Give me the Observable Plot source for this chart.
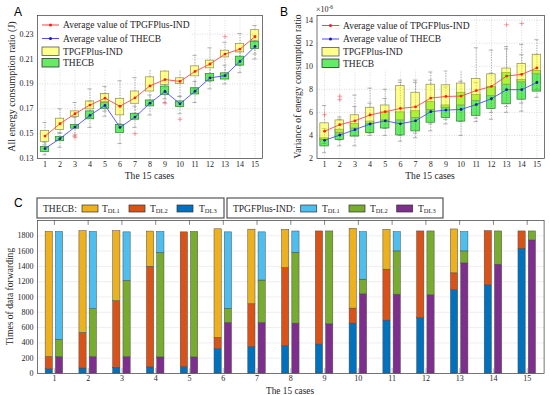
<!DOCTYPE html>
<html><head><meta charset="utf-8">
<script src="https://cdn.jsdelivr.net/npm/d3@7"></script>
<script src="https://cdn.jsdelivr.net/npm/@observablehq/plot@0.6"></script>
<style>
body{margin:0;background:#fff;}
#wrap{position:relative;width:550px;height:395px;overflow:hidden;background:#fff;}
#wrap svg{position:absolute;left:0;top:0;}
</style></head><body><div id="wrap"></div>
<script>
const cases = [1,2,3,4,5,6,7,8,9,10,11,12,13,14,15];

// Panel A: all energy consumption ratio (J)
const aTicks = [0.13,0.15,0.17,0.19,0.21,0.23];
const a_tpgf_mean = [0.148,0.158,0.166,0.173,0.1785,0.172,0.1788,0.1884,0.1935,0.192,0.200,0.206,0.214,0.218,0.228];
const a_thecb_mean = [0.138,0.146,0.1553,0.1647,0.1727,0.155,0.1633,0.1745,0.1839,0.174,0.1841,0.1948,0.1967,0.2081,0.2201];
const a_tpgf_q1 = [0.1433,0.153,0.1633,0.1695,0.1745,0.1647,0.174,0.1839,0.1892,0.190,0.1961,0.2025,0.2113,0.2153,0.2247];
const a_tpgf_q3 = [0.152,0.162,0.1679,0.1759,0.182,0.178,0.1839,0.1953,0.1999,0.1945,0.2041,0.2087,0.2167,0.222,0.2332];
const a_thecb_q1 = [0.1353,0.1439,0.154,0.1615,0.170,0.1505,0.1612,0.1719,0.1812,0.1713,0.1815,0.1921,0.1935,0.2047,0.218];
const a_thecb_q3 = [0.1393,0.1473,0.157,0.1679,0.1753,0.157,0.166,0.1767,0.1879,0.1759,0.1865,0.198,0.1985,0.2119,0.2239];
const a_tpgf_lo = [0.141,0.150,0.156,0.163,0.168,0.158,0.166,0.174,0.178,0.180,0.186,0.192,0.196,0.205,0.214];
const a_tpgf_hi = [0.159,0.170,0.175,0.186,0.188,0.1925,0.195,0.204,0.211,0.204,0.213,0.219,0.2235,0.2305,0.237];
const a_thecb_lo = [0.133,0.139,0.148,0.155,0.164,0.142,0.155,0.165,0.175,0.166,0.175,0.186,0.190,0.199,0.210];
const a_thecb_hi = [0.143,0.151,0.163,0.176,0.182,0.172,0.172,0.181,0.193,0.180,0.192,0.205,0.205,0.216,0.229];
const a_out_case = [3,3,7,9,10,13];
const a_out_val = [0.147,0.149,0.150,0.1745,0.1616,0.228];

// Panel B: variance of energy consumption ratio (x1e-6)
const bTicks = [2,4,6,8,10,12,14];
const b_tpgf_mean = [4.37,4.93,5.27,5.77,6.06,6.34,6.48,7.24,7.38,7.41,7.89,8.25,9.15,9.30,9.86];
const b_thecb_mean = [3.58,4.03,4.50,4.99,5.27,5.01,5.27,6.06,6.20,6.25,6.68,7.18,7.97,7.97,8.59];
const b_tpgf_q1 = [3.6,4.2,4.6,5.0,5.3,5.3,5.5,6.2,6.4,6.6,7.0,7.4,8.4,8.6,9.3];
const b_tpgf_q3 = [5.05,5.3,5.75,6.4,6.6,8.3,7.7,8.4,8.35,8.5,8.9,9.3,9.8,10.2,11.0];
const b_thecb_q1 = [3.05,3.6,3.9,4.2,4.6,4.0,4.35,5.1,5.5,5.2,5.7,6.3,6.7,7.1,7.8];
const b_thecb_q3 = [3.75,4.5,5.0,5.2,6.0,6.0,6.1,6.9,6.6,7.7,7.5,8.2,9.4,8.8,9.6];
const b_tpgf_lo = [3.3,3.6,4.0,4.2,4.6,4.0,4.2,5.0,5.4,5.2,5.5,6.0,6.5,6.8,8.0];
const b_tpgf_hi = [6.6,5.6,7.5,8.1,8.0,8.8,8.8,9.5,9.6,10.8,11.6,11.4,11.7,11.9,12.3];
const b_thecb_lo = [2.5,3.1,3.1,4.0,4.0,3.5,3.8,4.4,5.0,4.0,5.2,5.4,6.0,6.1,7.3];
const b_thecb_hi = [4.6,5.4,6.5,6.8,7.2,8.6,8.6,8.8,8.2,8.7,8.6,9.4,11.5,11.0,11.0];
const b_out_case = [1,2,2,13,14];
const b_out_val = [5.8,7.4,7.1,13.6,13.7];

// Panel C: times of data forwarding (stack segments, bottom to top)
const cTicks = [0,200,400,600,800,1000,1200,1400,1600,1800];
const c_thecb_dl3 = [55,65,75,80,85,320,345,357,378,652,691,722,1091,1152,1630];
const c_thecb_dl2 = [160,465,870,1315,1760,145,560,1021,1479,196,666,1135,218,709,227];
const c_thecb_dl1 = [1635,1330,915,460,0,1420,975,500,0,1043,521,0,574,0,0];
const c_tpgf_dl3 = [215,215,215,210,210,660,660,652,643,1035,1030,1022,1439,1422,1739];
const c_tpgf_dl2 = [225,625,995,1365,1640,185,555,926,1214,191,566,835,157,435,118];
const c_tpgf_dl1 = [1410,1010,635,275,0,1000,630,278,0,622,252,0,252,0,0];

const W = 550, H = 395;
const wrap = document.getElementById("wrap");
const baseStyle = {fontFamily:"Liberation Serif, serif", fontSize:"8px", color:"#262626", background:"transparent", overflow:"visible"};

function rowsOf(mean,q1,q3,lo,hi){return cases.map((c,i)=>({c,mean:mean[i],q1:q1[i],q3:q3[i],lo:lo[i],hi:hi[i]}));}
function whiskers(rows){
  const s = {stroke:"#8f8f8f", strokeWidth:0.7};
  return [
    Plot.ruleX(rows,{x:"c",y1:"q3",y2:"hi",...s,strokeDasharray:"1.3,1.3"}),
    Plot.ruleX(rows,{x:"c",y1:"lo",y2:"q1",...s,strokeDasharray:"1.3,1.3"}),
    Plot.ruleY(rows,{y:"hi",x1:d=>d.c-0.14,x2:d=>d.c+0.14,...s}),
    Plot.ruleY(rows,{y:"lo",x1:d=>d.c-0.14,x2:d=>d.c+0.14,...s})
  ];
}
function box(rows, fill, fillOpacity, stroke){
  return Plot.rect(rows,{x1:d=>d.c-0.28,x2:d=>d.c+0.28,y1:"q1",y2:"q3",fill,fillOpacity,stroke,strokeWidth:0.7});
}
function meanLine(rows, stroke, dotFill){
  return [
    Plot.line(rows,{x:"c",y:"mean",stroke,strokeWidth:0.9}),
    Plot.dot(rows,{x:"c",y:"mean",r:1.4,fill:dotFill})
  ];
}
function boxPanel(opts){
  const {left,right,top,bottom,yDomain,yTicks,yFmt,tp,th,outC,outV} = opts;
  const outs = outC.map((c,i)=>({c,v:outV[i]}));
  return Plot.plot({
    width:W, height:H,
    marginLeft:left, marginRight:W-right, marginTop:top, marginBottom:H-bottom,
    style:baseStyle,
    x:{domain:[0.5,15.5], ticks:cases, tickFormat:d=>String(d), tickSize:0, tickPadding:3, label:null},
    y:{domain:yDomain, ticks:yTicks, tickFormat:yFmt, tickSize:0, tickPadding:4, label:null},
    marks:[
      Plot.ruleY(yTicks,{stroke:"#c4c4c4",strokeWidth:0.6,strokeDasharray:"1,1.5"}),
      Plot.ruleX(cases,{stroke:"#c4c4c4",strokeWidth:0.6,strokeDasharray:"1,1.5"}),
      ...whiskers(th), ...whiskers(tp),
      box(th,"#00dd00",0.6,"#2f7f2f"),
      box(tp,"#ffff00",0.45,"#8f8f55"),
      ...meanLine(tp,"#ff4545","#ff1a1a"),
      ...meanLine(th,"#4a4aff","#1a1a99"),
      Plot.dot(outs,{x:"c",y:"v",symbol:"plus",r:1.6,stroke:"#ff5a5a",strokeWidth:0.6}),
      Plot.frame({stroke:"#3a3a3a",strokeWidth:0.7})
    ]
  });
}

const plotA = boxPanel({left:37,right:262,top:15,bottom:158,yDomain:[0.13,0.245],yTicks:aTicks,yFmt:d3.format(".2f"),
  tp:rowsOf(a_tpgf_mean,a_tpgf_q1,a_tpgf_q3,a_tpgf_lo,a_tpgf_hi),
  th:rowsOf(a_thecb_mean,a_thecb_q1,a_thecb_q3,a_thecb_lo,a_thecb_hi),
  outC:a_out_case,outV:a_out_val});
const plotB = boxPanel({left:316.5,right:544,top:15,bottom:158,yDomain:[2,14.4],yTicks:bTicks,yFmt:d=>String(d),
  tp:rowsOf(b_tpgf_mean,b_tpgf_q1,b_tpgf_q3,b_tpgf_lo,b_tpgf_hi),
  th:rowsOf(b_thecb_mean,b_thecb_q1,b_thecb_q3,b_thecb_lo,b_thecb_hi),
  outC:b_out_case,outV:b_out_val});

// Panel C
const cDomain = [0,2000];
const segs = [];
cases.forEach((c,i)=>{
  let acc = 0;
  [[c_thecb_dl3[i],"#0072BD"],[c_thecb_dl2[i],"#D95319"],[c_thecb_dl1[i],"#EDB120"]].forEach(([v,col])=>{
    if (v>0) segs.push({c,side:-1,y1:acc,y2:acc+v,col}); acc += v;});
  acc = 0;
  [[c_tpgf_dl3[i],"#7E2F8E"],[c_tpgf_dl2[i],"#77AC30"],[c_tpgf_dl1[i],"#4DBEEE"]].forEach(([v,col])=>{
    if (v>0) segs.push({c,side:1,y1:acc,y2:acc+v,col}); acc += v;});
});
const tickLen = (cDomain[1]-cDomain[0])*0.032;
const plotC = Plot.plot({
  width:W, height:H,
  marginLeft:37, marginRight:W-543.6, marginTop:220, marginBottom:H-373,
  style:baseStyle,
  color:{type:"identity"},
  x:{domain:[0.5,15.5], ticks:cases, tickFormat:d=>String(d), tickSize:0, tickPadding:2, label:null},
  y:{domain:cDomain, ticks:cTicks, tickFormat:d=>String(d), tickSize:0, tickPadding:4, label:null},
  marks:[
    Plot.ruleY(cTicks.slice(1),{stroke:"#e6e6e6",strokeWidth:0.7}),
    Plot.ruleX(cases,{x:d=>d,y1:cDomain[0],y2:cDomain[0]+tickLen,stroke:"#c8c8c8",strokeWidth:1.2}),
    Plot.ruleX(cases,{x:d=>d,y1:cDomain[1],y2:cDomain[1]-tickLen,stroke:"#555",strokeWidth:0.7}),
    Plot.rect(segs,{x1:d=>d.c+d.side*0.152-0.107,x2:d=>d.c+d.side*0.152+0.107,y1:"y1",y2:"y2",fill:"col",stroke:"#4a4a4a",strokeWidth:0.5}),
    Plot.frame({stroke:"#3a3a3a",strokeWidth:0.7})
  ]
});

[plotA, plotB, plotC].forEach(p=>wrap.appendChild(p));

// Overlay: titles, panel letters, legends
const serif = 'font-family="Liberation Serif, serif" fill="#262626"';
function sub(x,y,main,s){return `<text x="${x}" y="${y}" font-size="9.5" ${serif}>${main}<tspan font-size="6.5" dy="1.8">${s}</tspan></text>`;}
function boxLegend(x0,y0){
  return `<rect x="${x0-4}" y="${y0-8}" width="152" height="53" fill="#fff"/>
  <line x1="${x0}" x2="${x0+17}" y1="${y0}" y2="${y0}" stroke="#ff4545" stroke-width="1"/><circle cx="${x0+8.5}" cy="${y0}" r="1.5" fill="#ff1a1a"/>
  <text x="${x0+21}" y="${y0+3.3}" font-size="9.5" ${serif}>Average value of TPGFPlus-IND</text>
  <line x1="${x0}" x2="${x0+17}" y1="${y0+13.5}" y2="${y0+13.5}" stroke="#4a4aff" stroke-width="1"/><circle cx="${x0+8.5}" cy="${y0+13.5}" r="1.5" fill="#1a1a99"/>
  <text x="${x0+21}" y="${y0+16.8}" font-size="9.5" ${serif}>Average value of THECB</text>
  <rect x="${x0}" y="${y0+22}" width="17" height="8.5" fill="#ffff8c" stroke="#555" stroke-width="0.8"/>
  <text x="${x0+21}" y="${y0+29.5}" font-size="9.5" ${serif}>TPGFPlus-IND</text>
  <rect x="${x0}" y="${y0+33.5}" width="17" height="8.5" fill="#66eb66" stroke="#333" stroke-width="0.8"/>
  <text x="${x0+21}" y="${y0+41}" font-size="9.5" ${serif}>THECB</text>`;
}
const sw = (x,col)=>`<rect x="${x}" y="205" width="16" height="7" fill="${col}" stroke="#333" stroke-width="0.7"/>`;
const overlay = `<svg width="${W}" height="${H}" xmlns="http://www.w3.org/2000/svg">
  <text x="14" y="16" font-size="12" font-family="Liberation Sans, Arial, sans-serif" fill="#000">A</text>
  <text x="280" y="16" font-size="12" font-family="Liberation Sans, Arial, sans-serif" fill="#000">B</text>
  <text x="14" y="207" font-size="12" font-family="Liberation Sans, Arial, sans-serif" fill="#000">C</text>
  <text transform="translate(15,86.5) rotate(-90)" text-anchor="middle" font-size="10" ${serif}>All energy consumption ratio (J)</text>
  <text transform="translate(301,86.5) rotate(-90)" text-anchor="middle" font-size="9.6" ${serif}>Variance of energy consumption ratio</text>
  <text transform="translate(13,296.5) rotate(-90)" text-anchor="middle" font-size="9.6" ${serif}>Times of data forwarding</text>
  <text x="149.5" y="178.5" text-anchor="middle" font-size="9.6" ${serif}>The 15 cases</text>
  <text x="430" y="178.5" text-anchor="middle" font-size="9.6" ${serif}>The 15 cases</text>
  <text x="290" y="393.5" text-anchor="middle" font-size="9.3" ${serif}>The 15 cases</text>
  <text x="316" y="12" font-size="8" ${serif}>×10<tspan font-size="5.5" dy="-3">-6</tspan></text>
  ${boxLegend(42,25)}
  ${boxLegend(322,25.5)}
  <rect x="37" y="198" width="187" height="20" fill="#fff" stroke="#555" stroke-width="1.2"/>
  <rect x="227" y="198" width="216" height="20" fill="#fff" stroke="#555" stroke-width="1.2"/>
  <text x="43" y="211.5" font-size="9.5" ${serif}>THECB:</text>
  ${sw(82,"#EDB120")}${sub(102,211.5,"T","DL1")}
  ${sw(129,"#D95319")}${sub(150,211.5,"T","DL2")}
  ${sw(177,"#0072BD")}${sub(199,211.5,"T","DL3")}
  <text x="233" y="211.5" font-size="9.5" ${serif}>TPGFPlus-IND:</text>
  ${sw(300.7,"#4DBEEE")}${sub(322,211.5,"T","DL1")}
  ${sw(349,"#77AC30")}${sub(370,211.5,"T","DL2")}
  ${sw(396.7,"#7E2F8E")}${sub(418,211.5,"T","DL3")}
</svg>`;
const ov = document.createElement("div");
ov.innerHTML = overlay;
wrap.appendChild(ov.firstElementChild);
</script></body></html>
